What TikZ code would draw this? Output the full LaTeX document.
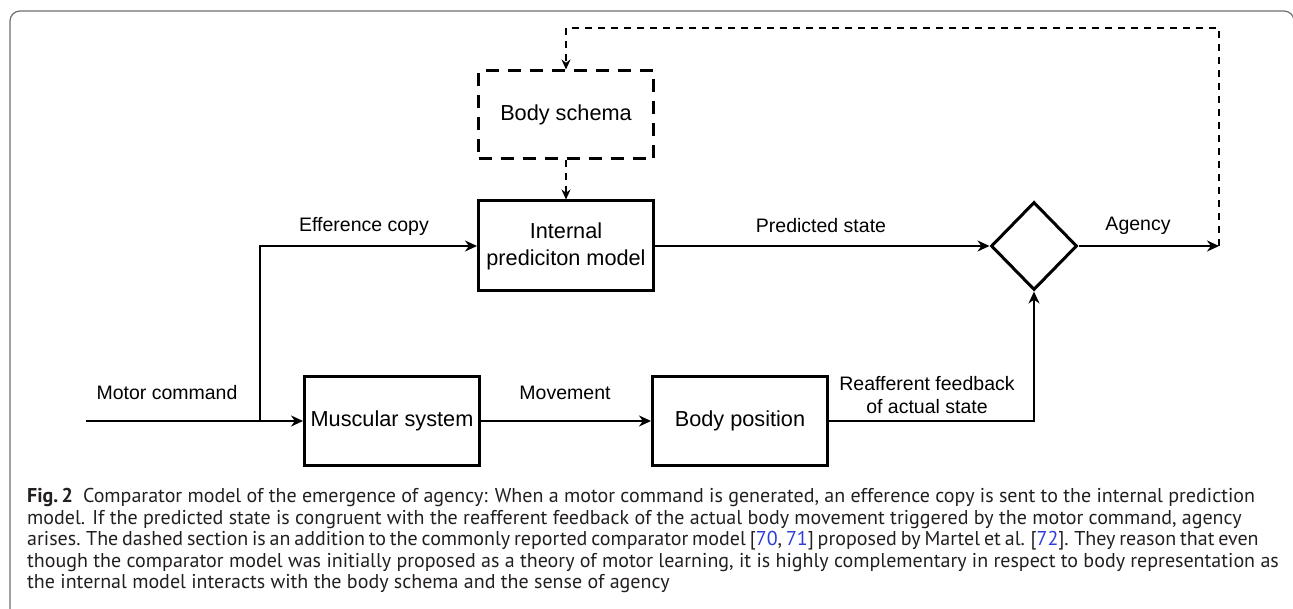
\documentclass[tikz,border=0pt]{standalone}
\usepackage{fontspec}
\setmainfont{Liberation Sans}
\newfontfamily\captionfont{PT Sans}
\usetikzlibrary{shapes.geometric,arrows.meta,positioning}

\definecolor{framegray}{RGB}{110,110,110}
\definecolor{captiontext}{RGB}{35,31,32}
\definecolor{citeblue}{RGB}{45,60,215}

\begin{document}
\begin{tikzpicture}[
            x=1pt, y=-1pt,
            block/.style={draw, line width=3pt, minimum width=175pt, minimum height=88pt,
                inner sep=0pt, align=center, font=\fontsize{21.7}{27}\selectfont},
            schema/.style={block, dash pattern=on 13pt off 9pt},
            comparator/.style={diamond, draw, line width=3pt, minimum width=86pt,
                minimum height=88pt, inner sep=0pt},
            flow/.style={line width=2pt, -{Stealth[length=12pt, width=11pt]}},
            feedback/.style={line width=2pt, dash pattern=on 7pt off 6pt,
                -{Stealth[length=10pt, width=9pt]}},
            lbl/.style={align=center, font=\fontsize{19.5}{23}\selectfont},
        ]

        \useasboundingbox (0,0) rectangle (1293,609);

        % Frame
        \draw[framegray, line width=1.2pt, rounded corners=10pt]
            (10,612) -- (10,11) -- (1294,11) -- (1294,612);

        % Blocks
        \node[schema] (bs) at (566,115) {Body schema};
        \node[block, minimum height=90pt] (ipm) at (566,246) {Internal\\prediciton model};
        \node[comparator] (cmp) at (1034,246) {};
        \node[block] (ms) at (392,421) {Muscular system};
        \node[block] (bp) at (740,421) {Body position};

        % Free ends
        \coordinate (start) at (86,421);
        \coordinate (split) at (260,421);
        \coordinate (out) at (1219,246);
        \coordinate (top) at (1219,28);

        % Connections
        \draw[flow] (start) -- (ms);
        \draw[flow] (split) |- (ipm);
        \draw[flow] (ms) -- (bp);
        \draw[flow] (ipm) -- (cmp);
        \draw[flow] (bp) -| (cmp);
        \draw[flow] (cmp) -- (out);

        % Dashed loop
        \draw[feedback] (out) -- (top) -| (bs);
        \draw[feedback] (bs) -- (ipm);

        % Labels
        \node[lbl] (efflbl) at (364,226) {Efference copy};
        \node[lbl] (predlbl) at (821,226) {Predicted state};
        \node[lbl] (agylbl) at (1138,226) {Agency};
        \node[lbl] (motlbl) at (167,393) {Motor command};
        \node[lbl] (movlbl) at (565,393) {Movement};
        \node[lbl] (reflbl) at (927,395) {Reafferent feedback\\of actual state};

        % Caption
        \node[anchor=north west, align=left, inner sep=0pt, text=captiontext,
            font=\captionfont\fontsize{20}{21.6}\selectfont] (caption) at (27,488)
            {\textbf{Fig.\,2}\hspace{0.5em}Comparator model of the emergence of agency: When a motor command is generated, an efference copy is sent to the internal prediction\\
            model. If the predicted state is congruent with the reafferent feedback of the actual body movement triggered by the motor command, agency\\
            {\spaceskip=0.72\fontdimen2\font arises. The dashed section is an addition to the commonly reported comparator model [\textcolor{citeblue}{70}, \textcolor{citeblue}{71}] proposed by Martel et al. [\textcolor{citeblue}{72}]. They reason that even}\\
            though the comparator model was initially proposed as a theory of motor learning, it is highly complementary in respect to body representation as\\
            the internal model interacts with the body schema and the sense of agency};

    \end{tikzpicture}
\end{document}
